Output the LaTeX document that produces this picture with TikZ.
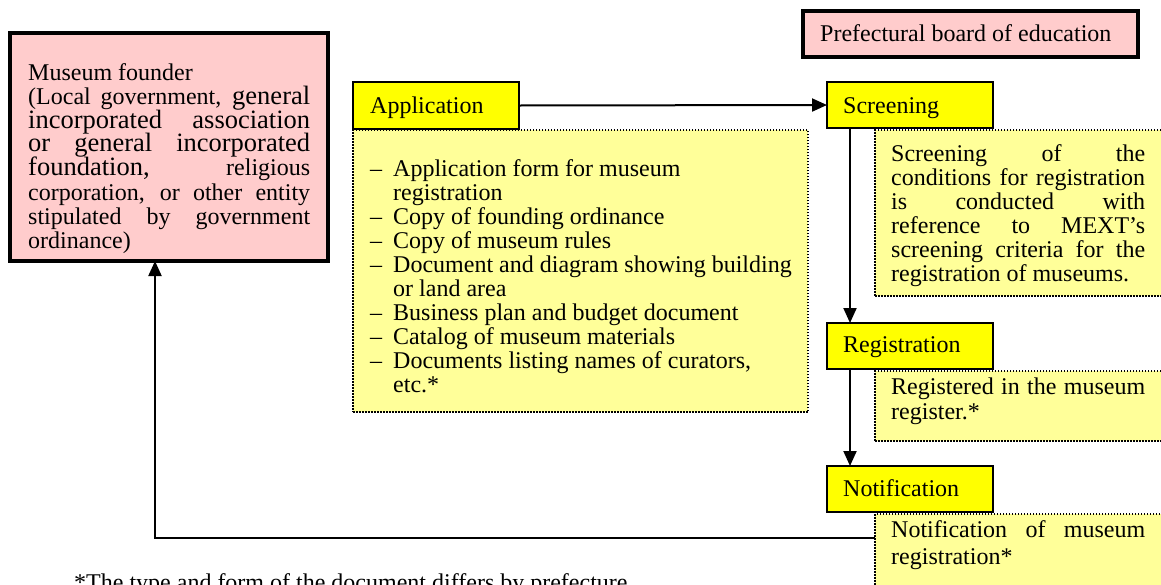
\documentclass[tikz,border=0pt]{standalone}
\usepackage{fontspec}
\setmainfont{Liberation Serif}
\usetikzlibrary{arrows.meta}
\definecolor{pinkfill}{HTML}{FFCCCC}
\definecolor{yelfill}{HTML}{FFFF00}
\definecolor{paleyel}{HTML}{FFFF99}
\newcommand\LargerTxt[1]{{\fontsize{26.5}{26.5}\selectfont #1}}
\newcommand\JL[2]{\makebox[#1][s]{#2}}
\begin{document}
\begin{tikzpicture}[x=1pt,y=-1pt,
  every node/.style={font=\fontsize{24}{24}\selectfont},
  boxnode/.style={anchor=north west, inner sep=0pt, outer sep=0pt},
  thickbox/.style={boxnode, draw=black, line width=3.5pt, fill=pinkfill},
  labelbox/.style={boxnode, draw=black, line width=2pt, fill=yelfill},
  notebox/.style={boxnode, draw=black, line width=1.5pt, dash pattern=on 1.5pt off 1.5pt, fill=paleyel},
  txt/.style={anchor=base west, inner sep=0pt},
  conn/.style={line width=2pt, -{Triangle[length=15pt,width=13pt]}},
]
\useasboundingbox (0,0) rectangle (1161,584);

% boxes
\node[thickbox, minimum width=318pt, minimum height=228pt] (fnd) at (10,33) {};
\node[thickbox, line width=4pt, minimum width=335pt, minimum height=46pt] (pref) at (803,11) {};

\node[notebox, minimum width=455pt, minimum height=282pt] (appd) at (353,130) {};
\node[labelbox, minimum width=166pt, minimum height=47pt] (app) at (353,82) {};

\node[notebox, minimum width=300pt, minimum height=166pt] (scrd) at (875,130) {};
\node[labelbox, minimum width=166pt, minimum height=46pt] (scr) at (827,82) {};

\node[notebox, minimum width=300pt, minimum height=70pt] (regd) at (875,371) {};
\node[labelbox, minimum width=166pt, minimum height=46pt] (reg) at (827,323) {};

\node[notebox, minimum width=300pt, minimum height=90pt] (notd) at (875,514) {};
\node[labelbox, minimum width=166pt, minimum height=46pt] (not) at (827,466) {};

% labels
\node[txt] (preft) at (820,41) {Prefectural board of education};
\node[txt] (appt) at (370,113) {Application};
\node[txt] (scrt) at (843,113) {Screening};
\node[txt] (regt) at (843,352) {Registration};
\node[txt] (nott) at (843,496) {Notification};

% founder text
\node[txt] (f1) at (28,80) {Museum founder};
\node[txt] (f2) at (28,104) {\JL{282pt}{(Local government, \LargerTxt{general}}};
\node[txt] (f3) at (28,128) {\JL{282pt}{\LargerTxt{incorporated association}}};
\node[txt] (f4) at (28,151) {\JL{282pt}{\LargerTxt{or general incorporated}}};
\node[txt] (f5) at (28,175) {\JL{282pt}{\LargerTxt{foundation,} religious}};
\node[txt] (f6) at (28,200) {\JL{282pt}{corporation, or other entity}};
\node[txt] (f7) at (28,224) {\JL{282pt}{stipulated by government}};
\node[txt] (f8) at (28,248) {ordinance)};

% application list
\node[txt] (a1) at (370,176) {\makebox[23pt][l]{–}Application form for museum};
\node[txt] (a2) at (393,200) {registration};
\node[txt] (a3) at (370,224) {\makebox[23pt][l]{–}Copy of founding ordinance};
\node[txt] (a4) at (370,248) {\makebox[23pt][l]{–}Copy of museum rules};
\node[txt] (a5) at (370,272) {\makebox[23pt][l]{–}Document and diagram showing building};
\node[txt] (a6) at (393,296) {or land area};
\node[txt] (a7) at (370,320) {\makebox[23pt][l]{–}Business plan and budget document};
\node[txt] (a8) at (370,344) {\makebox[23pt][l]{–}Catalog of museum materials};
\node[txt] (a9) at (370,368) {\makebox[23pt][l]{–}Documents listing names of curators,};
\node[txt] (a10) at (393,392) {etc.*};

% screening text
\node[txt] (s1) at (891,161) {\JL{254pt}{Screening of the}};
\node[txt] (s2) at (891,185) {\JL{254pt}{conditions for registration}};
\node[txt] (s3) at (891,209) {\JL{254pt}{is conducted with}};
\node[txt] (s4) at (891,233) {\JL{254pt}{reference to MEXT’s}};
\node[txt] (s5) at (891,257) {\JL{254pt}{screening criteria for the}};
\node[txt] (s6) at (891,281) {registration of museums.};

% registration text
\node[txt] (r1) at (891,394) {\JL{254pt}{Registered in the museum}};
\node[txt] (r2) at (891,419) {register.*};

% notification text
\node[txt] (n1) at (891,537) {\JL{254pt}{Notification of museum}};
\node[txt] (n2) at (891,564) {registration*};

% footnote
\node[txt] (foot) at (74,590) {*The type and form of the document differs by prefecture};

% connectors
\draw[conn] (app.east) -- (scr.west);
\draw[conn] ([xshift=23pt]scr.south west) -- ([xshift=23pt]reg.north west);
\draw[conn] ([xshift=23pt]reg.south west) -- ([xshift=23pt]not.north west);
\draw[conn] ([yshift=-24pt]notd.north west) -| ([xshift=145pt]fnd.south west);
\end{tikzpicture}
\end{document}
